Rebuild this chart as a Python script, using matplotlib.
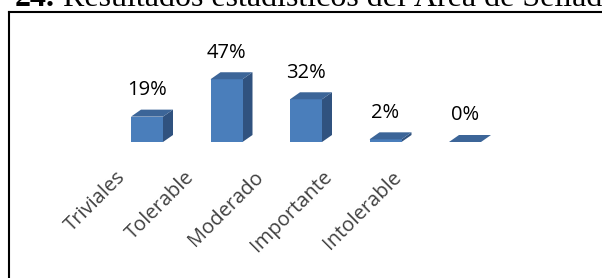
import matplotlib
matplotlib.use("Agg")
import matplotlib.pyplot as plt
from matplotlib.patches import Polygon
from matplotlib.lines import Line2D

# data
categories = ["Triviales", "Tolerable", "Moderado", "Importante", "Intolerable"]
values = [19, 47, 32, 2, 0]
value_labels = ["19%", "47%", "32%", "2%", "0%"]

W, H = 602, 278
front_col = "#4A7EBB"
top_col = "#3C6598"
side_col = "#30527F"

fig = plt.figure(figsize=(W / 100, H / 100), dpi=100)

# main axes spanning the figure, scaled so bars sit where they do in the picture
ax = fig.add_axes([0, 0, 1, 1])
x0, step = 147, 79.5           # px of first bar centre, px between bars
base, scale = 136, 1.335       # px of baseline from bottom, px per percent
ax.set_xlim(-x0 / step, (W - x0) / step)
ax.set_ylim(-base / scale, (H - base) / scale)
ax.axis("off")

bw = 32 / step
dx = 10 / step
dy = 7 / scale

for i, v in enumerate(values):
    l, r = i - bw / 2, i + bw / 2
    ax.bar(i, v, width=bw, color=front_col, edgecolor="none", zorder=2)
    # side face
    ax.add_patch(Polygon([(r, 0), (r + dx, dy), (r + dx, v + dy), (r, v)],
                         closed=True, facecolor=side_col, edgecolor="none", zorder=1))
    # top face
    ax.add_patch(Polygon([(l, v), (r, v), (r + dx, v + dy), (l + dx, v + dy)],
                         closed=True, facecolor=top_col, edgecolor="none", zorder=3))
    ax.annotate(value_labels[i], (i, v + dy), xytext=(0, 7), textcoords="offset points",
                ha="center", va="bottom", fontsize=14.5, family="Open Sans", color="black")

# category labels (they sit closer together than the bars, like Excel's 3D view)
lab = fig.add_axes([0, 0, 1, 1])
lx0, lstep = 116, 68.75
lab.set_xlim(-lx0 / lstep, (W - lx0) / lstep)
lab.set_ylim(0, H)
lab.axis("off")
for i, c in enumerate(categories):
    lab.text(i, H - 167, c, rotation=45, rotation_mode="anchor", ha="right", va="top",
             fontsize=14.5, family="Open Sans", color="#404040")

# frame of the chart (left and top edges are visible)
fig.add_artist(Line2D([9 / W, 9 / W], [0, 1 - 12 / H], transform=fig.transFigure,
                      color="black", lw=1.5))
fig.add_artist(Line2D([9 / W, 1], [1 - 12 / H, 1 - 12 / H], transform=fig.transFigure,
                      color="black", lw=1.5))

# caption cut off by the top of the image
fig.text(15 / W, 1 - 6 / H, "24.", fontsize=23, family="Liberation Serif",
         weight="bold", va="baseline")
fig.text(63 / W, 1 - 6 / H, "Resultados estadísticos del Área de Sellado", fontsize=23,
         family="Liberation Serif", va="baseline")

fig.savefig("out.png", dpi=100)
